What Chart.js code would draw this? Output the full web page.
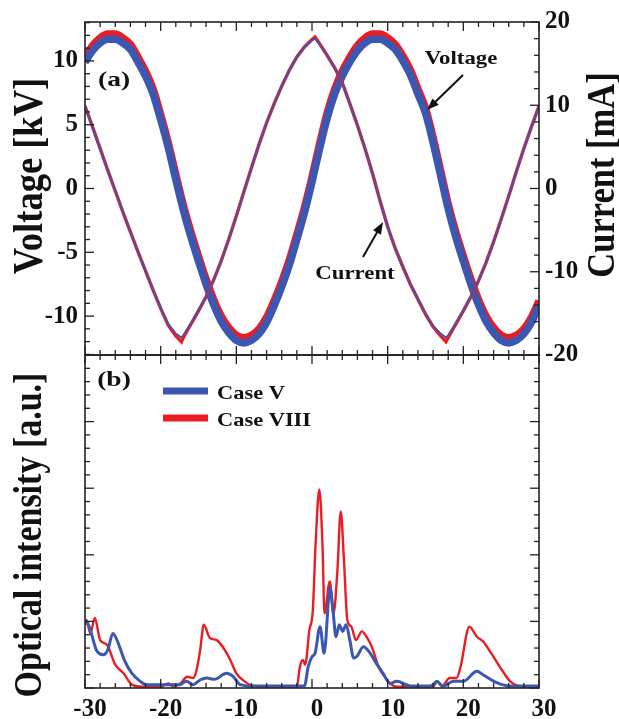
<!DOCTYPE html>
<html>
<head>
<meta charset="utf-8">
<script src="https://cdn.jsdelivr.net/npm/chart.js@4.4.1/dist/chart.umd.min.js"></script>
<style>
body{margin:0;background:#fff}
#wrap{position:relative;width:619px;height:719px}
#wrap canvas{position:absolute;left:0;top:0}
</style>
</head>
<body>
<div id="wrap">
<canvas id="panelA" width="619" height="719"></canvas>
<canvas id="panelB" width="619" height="719"></canvas>
</div>
<script>
// panel (a): time axis [us]
var tV = [-30,-29,-28,-27,-26,-25,-24,-23,-22,-21,-20,-19,-18,-17,-16,-15,-14,-13,-12,-11,-10,-9,-8,-7,-6,-5,-4,-3,-2,-1,0,1,2,3,4,5,6,7,8,9,10,11,12,13,14,15,16,17,18,19,20,21,22,23,24,25,26,27,28,29,30];
var vBlue = [9.9,10.8,11.4,11.7,11.7,11.4,10.9,9.9,8.8,7.4,5.4,3.2,0.7,-1.7,-3.8,-5.7,-7.5,-9.1,-10.4,-11.3,-11.9,-12.1,-11.9,-11.4,-10.5,-9.2,-7.7,-6.0,-4.0,-1.9,0.5,3.1,5.5,7.4,8.8,9.9,10.8,11.4,11.7,11.7,11.4,10.9,10.0,8.9,7.4,5.9,3.6,1.0,-1.6,-3.8,-5.7,-7.5,-9.1,-10.4,-11.3,-11.9,-12.1,-11.9,-11.4,-10.5,-9.2];
var vRed = [10.3,11.2,11.8,12.1,12.1,11.8,11.3,10.3,9.2,7.8,5.8,3.6,1.1,-1.3,-3.4,-5.3,-7.1,-8.7,-10.0,-10.9,-11.5,-11.7,-11.5,-11.0,-10.1,-8.8,-7.3,-5.6,-3.6,-1.5,0.9,3.5,5.9,7.8,9.2,10.3,11.2,11.8,12.1,12.1,11.8,11.3,10.4,9.3,7.8,6.3,4.0,1.4,-1.2,-3.4,-5.3,-7.1,-8.7,-10.0,-10.9,-11.5,-11.7,-11.5,-11.0,-10.1,-8.8];

var tI = [-30,-29,-28,-27,-26,-25,-24,-23,-22,-21,-20,-19,-18,-17.25,-17,-16,-15,-14,-13,-12,-11,-10,-9,-8,-7,-6,-5,-4,-3,-2,-1,0,0.4,1,2,3,4,5,6,7,8,9,10,11,12,13,14,15,16,17,17.7,18,19,20,21,22,23,24,25,26,27,28,29,30];
var iBlue = [9.8,7.3,4.7,2.2,-0.3,-2.8,-5.2,-7.6,-9.9,-12.2,-14.3,-16.3,-17.4,-17.9,-17.6,-16.2,-14.6,-13.0,-11.0,-8.7,-6.1,-3.3,-0.4,2.5,5.3,7.9,10.2,12.3,14.2,15.8,17.0,17.8,18.0,17.3,16.0,14.5,12.7,10.2,7.6,4.8,1.8,-1.5,-4.6,-7.2,-9.4,-11.5,-13.3,-15.0,-16.5,-17.4,-17.9,-17.6,-16.2,-14.6,-13.0,-11.1,-8.9,-6.4,-3.7,-0.9,2.0,4.8,7.4,9.8];
var iRed = [9.9,7.4,4.8,2.2,-0.3,-2.8,-5.2,-7.6,-9.9,-12.2,-14.4,-16.4,-17.7,-18.4,-17.9,-16.3,-14.7,-13.0,-11.0,-8.7,-6.1,-3.3,-0.4,2.5,5.3,7.9,10.2,12.3,14.2,15.8,17.0,17.9,18.2,17.4,16.0,14.5,12.7,10.2,7.6,4.8,1.8,-1.5,-4.6,-7.2,-9.4,-11.5,-13.3,-15.1,-16.6,-17.7,-18.4,-17.9,-16.3,-14.7,-13.0,-11.1,-8.9,-6.4,-3.7,-0.9,2.0,4.8,7.4,9.9];

// panel (b): optical intensity, arbitrary units
var tCaseV = [-30,-29.8,-29.3,-28.5,-27.6,-27.0,-26.3,-25.6,-24.8,-23.8,-22.7,-21.9,-17.5,-16.6,-15.7,-14.8,-13.9,-12.9,-11.3,-10.4,-9.5,-8.0,-1.0,-0.5,0.0,0.4,1.06,1.6,2.38,2.8,3.17,3.6,4.05,4.5,5.0,5.5,5.9,6.8,7.7,8.5,9.4,10.3,11.2,13.0,16.0,16.5,17.3,18.7,20.0,21.8,22.6,24.4,26.2,30];
var oCaseV = [0.95,1.0,0.87,0.57,0.5,0.57,0.82,0.67,0.42,0.22,0.1,0.05,0.05,0.1,0.05,0.12,0.15,0.13,0.22,0.17,0.05,0.03,0.03,0.32,0.47,0.52,0.92,0.52,1.5,1.13,0.77,0.95,0.85,0.95,0.72,0.45,0.47,0.62,0.52,0.37,0.22,0.07,0.1,0.03,0.03,0.1,0.03,0.1,0.1,0.25,0.2,0.08,0.03,0.03];
var tCaseVIII = [-30,-29.8,-29.3,-28.7,-28.0,-27.1,-26.0,-24.9,-23.8,-22.3,-20.0,-19.0,-18.3,-17.3,-16.5,-15.7,-15.3,-14.8,-14.3,-13.5,-12.6,-11.7,-10.8,-10.0,-8.9,-7.8,-5.0,-2.0,-1.6,-1.2,-0.9,-0.35,0.1,0.5,0.97,1.4,1.65,2.35,2.85,3.35,3.8,4.2,4.67,5.2,5.8,6.6,7.2,7.9,8.8,9.6,10.3,11.2,15.5,16.5,17.2,18.2,19.1,19.6,20.8,21.8,22.6,23.7,25.1,26.2,27.9,30];
var oCaseVIII = [0.95,1.02,0.82,1.05,0.72,0.65,0.35,0.22,0.05,0.02,0.02,0.07,0.02,0.08,0.17,0.15,0.25,0.55,0.95,0.75,0.72,0.6,0.42,0.22,0.1,0.03,0.02,0.02,0.32,0.42,0.35,0.87,1.15,2.22,2.98,2.1,1.12,1.6,1.12,1.75,2.65,1.97,1.02,0.92,0.72,0.85,0.77,0.62,0.32,0.17,0.07,0.02,0.02,0.1,0.03,0.15,0.15,0.3,0.92,0.77,0.7,0.52,0.27,0.1,0.02,0.02];

var xTicks = [-30,-20,-10,0,10,20,30];
var vTicks = [-10,-5,0,5,10];
var iTicks = [-20,-10,0,10,20];

var BLUE = '#3b57b2';
var RED = '#ec1c24';
var INK = '#111';
var SERIF = '"Liberation Serif", "Times New Roman", serif';

Chart.defaults.font.family = SERIF;
Chart.defaults.color = INK;

function pts(xs, ys) {
    return xs.map(function(x, i) { return {x: x, y: ys[i]}; });
}
function fixTicks(list) {
    return function(scale) { scale.ticks = list.map(function(v) { return {value: v}; }); };
}

// frame round the plot with inward ticks on every side
var frameTicks = {
    id: 'frameTicks',
    afterDatasetsDraw: function(chart, args, opts) {
        var ctx = chart.ctx, a = chart.chartArea;
        ctx.save();
        ctx.strokeStyle = '#222';
        ctx.lineWidth = 1.6;
        ctx.strokeRect(a.left, a.top, a.right - a.left, a.bottom - a.top);
        ctx.lineWidth = 1.3;
        opts.sides.forEach(function(sd) {
            var s = chart.scales[sd.scale];
            var k0 = Math.ceil(s.min / sd.minor - 1e-9), k1 = Math.floor(s.max / sd.minor + 1e-9);
            for (var k = k0; k <= k1; k++) {
                var v = k * sd.minor;
                var isMajor = Math.abs(v / sd.major - Math.round(v / sd.major)) < 1e-6;
                var len = isMajor ? 9 : 5;
                var p = s.getPixelForValue(v);
                ctx.beginPath();
                if (sd.side == 'left') { ctx.moveTo(a.left, p); ctx.lineTo(a.left + len, p); }
                else if (sd.side == 'right') { ctx.moveTo(a.right, p); ctx.lineTo(a.right - len, p); }
                else if (sd.side == 'top') { ctx.moveTo(p, a.top); ctx.lineTo(p, a.top + len); }
                else { ctx.moveTo(p, a.bottom); ctx.lineTo(p, a.bottom - len); }
                ctx.stroke();
            }
        });
        ctx.restore();
    }
};

// titles, panel letters, arrows and the legend of panel (b)
var notes = {
    id: 'notes',
    afterDraw: function(chart, args, opts) {
        var ctx = chart.ctx;
        ctx.save();
        ctx.fillStyle = INK;
        ctx.strokeStyle = INK;
        (opts.texts || []).forEach(function(t) {
            ctx.save();
            ctx.translate(t.x, t.y);
            ctx.scale(t.sx || 1.15, 1);
            if (t.rot) ctx.rotate(t.rot);
            ctx.font = 'bold ' + t.size + 'px ' + SERIF;
            ctx.textAlign = t.align || 'center';
            ctx.textBaseline = t.base || 'alphabetic';
            ctx.fillText(t.text, 0, 0);
            ctx.restore();
        });
        (opts.arrows || []).forEach(function(a) {
            var ang = Math.atan2(a[3] - a[1], a[2] - a[0]), hl = 12, hw = 4.5;
            var c = Math.cos(ang), s = Math.sin(ang);
            ctx.lineWidth = 2;
            ctx.beginPath();
            ctx.moveTo(a[0], a[1]);
            ctx.lineTo(a[2] - hl * 0.8 * c, a[3] - hl * 0.8 * s);
            ctx.stroke();
            ctx.beginPath();
            ctx.moveTo(a[2], a[3]);
            ctx.lineTo(a[2] - hl * c + hw * s, a[3] - hl * s - hw * c);
            ctx.lineTo(a[2] - hl * c - hw * s, a[3] - hl * s + hw * c);
            ctx.closePath();
            ctx.fill();
        });
        if (opts.legend) {
            var lg = opts.legend;
            chart.data.datasets.forEach(function(ds, i) {
                var y = lg.y + i * lg.gap;
                ctx.strokeStyle = ds.borderColor;
                ctx.lineWidth = 7;
                ctx.beginPath();
                ctx.moveTo(lg.x, y);
                ctx.lineTo(lg.x + 45, y);
                ctx.stroke();
                ctx.save();
                ctx.translate(lg.x + 54, y + 8);
                ctx.scale(1.15, 1);
                ctx.font = 'bold 19.5px ' + SERIF;
                ctx.textAlign = 'left';
                ctx.textBaseline = 'alphabetic';
                ctx.fillText(ds.label, 0, 0);
                ctx.restore();
            });
        }
        ctx.restore();
    }
};

var tickFont = {family: SERIF, weight: 'bold', size: 25};

var chartA = new Chart(document.getElementById('panelA').getContext('2d'), {
    type: 'line',
    data: {
        datasets: [
            {label: 'Current V', data: pts(tI, iBlue), yAxisID: 'yI', borderColor: BLUE, borderWidth: 1.8, tension: 0, pointRadius: 0},
            {label: 'Current VIII', data: pts(tI, iRed), yAxisID: 'yI', borderColor: RED, borderWidth: 3.4, tension: 0, pointRadius: 0},
            {label: 'Voltage V', data: pts(tV, vBlue), yAxisID: 'yV', borderColor: BLUE, borderWidth: 7.5, borderJoinStyle: 'round', cubicInterpolationMode: 'monotone', pointRadius: 0},
            {label: 'Voltage VIII', data: pts(tV, vRed), yAxisID: 'yV', borderColor: RED, borderWidth: 7.5, borderJoinStyle: 'round', cubicInterpolationMode: 'monotone', pointRadius: 0}
        ]
    },
    options: {
        responsive: false,
        animation: false,
        devicePixelRatio: 1,
        events: [],
        layout: {padding: {top: 22, left: 0, right: 0, bottom: 0}},
        scales: {
            x: {type: 'linear', min: -30, max: 30, grid: {display: false}, border: {display: false},
                ticks: {display: false}, afterFit: function(s) { s.height = 719 - 355; }},
            yV: {type: 'linear', position: 'left', min: -13.05, max: 13.05,
                grid: {display: false, drawTicks: false}, border: {display: false},
                ticks: {padding: 7, font: tickFont, color: INK}, afterBuildTicks: fixTicks(vTicks),
                afterFit: function(s) { s.width = 85; }},
            yI: {type: 'linear', position: 'right', min: -20, max: 20,
                grid: {display: false, drawTicks: false}, border: {display: false},
                ticks: {padding: 6, font: tickFont, color: INK}, afterBuildTicks: fixTicks(iTicks),
                afterFit: function(s) { s.width = 80; }}
        },
        plugins: {
            legend: {display: false},
            tooltip: {enabled: false},
            frameTicks: {sides: [
                {side: 'bottom', scale: 'x', major: 10, minor: 2},
                {side: 'top', scale: 'x', major: 10, minor: 2},
                {side: 'left', scale: 'yV', major: 5, minor: 1},
                {side: 'right', scale: 'yI', major: 10, minor: 2}
            ]},
            notes: {
                texts: [
                    {text: 'Voltage [kV]', x: 42, y: 176, size: 36.5, rot: -Math.PI / 2},
                    {text: 'Current [mA]', x: 614, y: 175, size: 34.5, rot: -Math.PI / 2},
                    {text: '(a)', x: 114, y: 80, size: 22, sx: 1.25, base: 'middle'},
                    {text: 'Voltage', x: 461, y: 64, size: 19, sx: 1.2},
                    {text: 'Current', x: 355, y: 279, size: 19, sx: 1.2}
                ],
                arrows: [[463, 75, 427, 110], [363, 257, 383, 222]]
            }
        }
    },
    plugins: [frameTicks, notes]
});

var chartB = new Chart(document.getElementById('panelB').getContext('2d'), {
    type: 'line',
    data: {
        datasets: [
            {label: 'Case V', data: pts(tCaseV, oCaseV), yAxisID: 'yO', borderColor: BLUE, borderWidth: 3, cubicInterpolationMode: 'monotone', pointRadius: 0},
            {label: 'Case VIII', data: pts(tCaseVIII, oCaseVIII), yAxisID: 'yO', borderColor: RED, borderWidth: 2.4, cubicInterpolationMode: 'monotone', pointRadius: 0}
        ]
    },
    options: {
        responsive: false,
        animation: false,
        devicePixelRatio: 1,
        events: [],
        layout: {padding: {top: 355, left: 0, right: 0, bottom: 0}},
        scales: {
            x: {type: 'linear', min: -30, max: 30, grid: {display: false, drawTicks: false}, border: {display: false},
                ticks: {padding: 7, labelOffset: 5, font: tickFont, color: INK, maxRotation: 0, autoSkip: false},
                afterBuildTicks: fixTicks(xTicks), afterFit: function(s) { s.height = 31; }},
            yO: {type: 'linear', position: 'left', min: 0, max: 5, grid: {display: false}, border: {display: false},
                ticks: {display: false}, afterFit: function(s) { s.width = 85; }},
            yR: {type: 'linear', position: 'right', min: 0, max: 5, grid: {display: false}, border: {display: false},
                ticks: {display: false}, afterFit: function(s) { s.width = 80; }}
        },
        plugins: {
            legend: {display: false},
            tooltip: {enabled: false},
            frameTicks: {sides: [
                {side: 'bottom', scale: 'x', major: 10, minor: 2},
                {side: 'top', scale: 'x', major: 10, minor: 2},
                {side: 'left', scale: 'yO', major: 1, minor: 0.2},
                {side: 'right', scale: 'yR', major: 1, minor: 0.2}
            ]},
            notes: {
                texts: [
                    {text: 'Optical intensity [a.u.]', x: 41, y: 535, size: 34, rot: -Math.PI / 2},
                    {text: '(b)', x: 114, y: 380, size: 22, sx: 1.25, base: 'middle'}
                ],
                legend: {x: 163, y: 391, gap: 27}
            }
        }
    },
    plugins: [frameTicks, notes]
});
</script>
</body>
</html>
